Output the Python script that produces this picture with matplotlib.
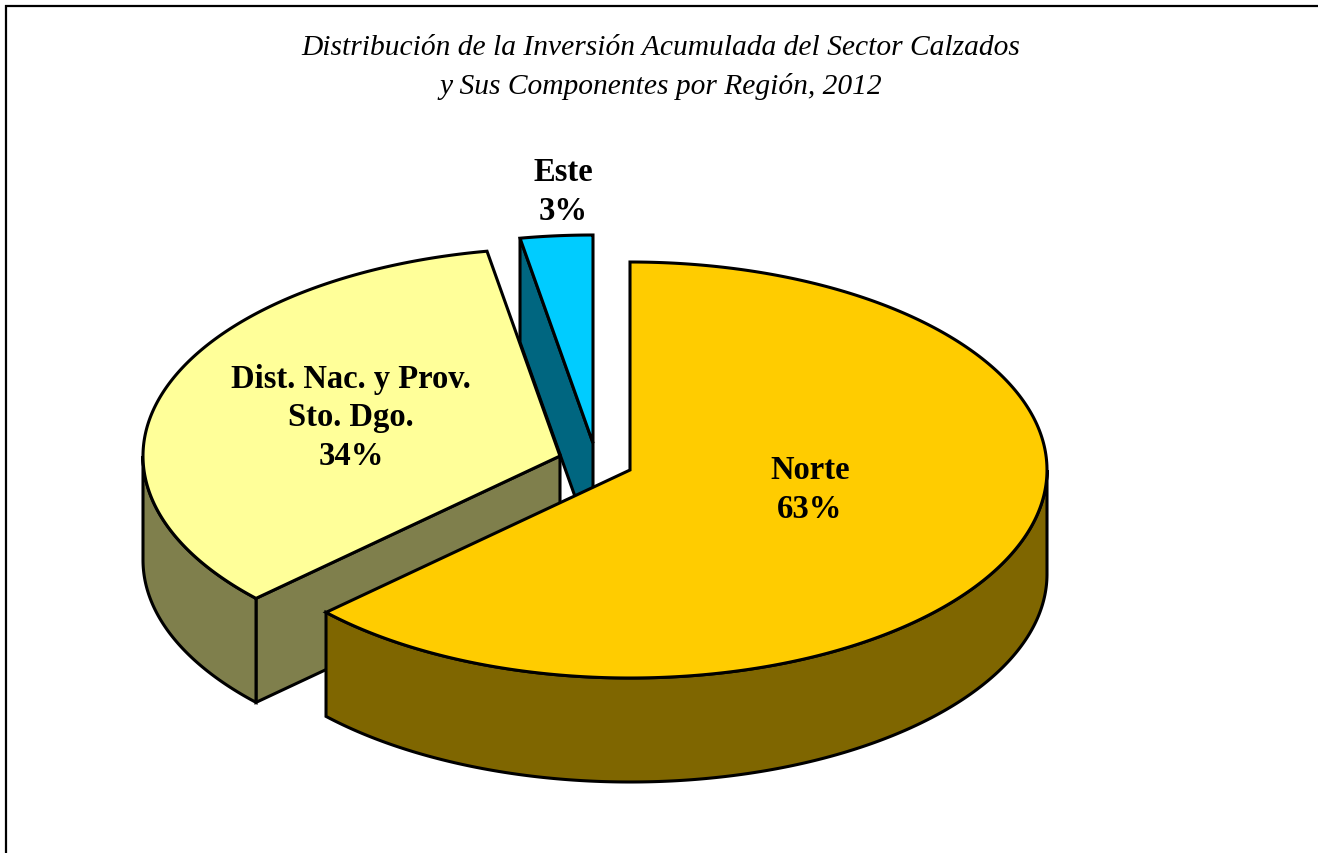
import numpy as np
import matplotlib
matplotlib.use("Agg")
from matplotlib import pyplot as plt
from matplotlib.patches import Polygon

plt.rcParams["font.family"] = ["Liberation Serif", "DejaVu Serif"]

title = "Distribución de la Inversión Acumulada del Sector Calzados\ny Sus Componentes por Región, 2012"
regions = ["Norte", "Dist. Nac. y Prov.\nSto. Dgo.", "Este"]
shares = [63.0, 34.2, 2.8]

top_colors = ["#FFCC00", "#FFFF99", "#00CCFF"]
side_colors = ["#7F6600", "#7F7F4C", "#006680"]

# the axes use picture pixels, y going down
centers = [(630, 471), (560, 457), (593, 444)]
label_pos = [(810, 490), (351, 418), (563, 192)]
rx = 417
ry = 208
depth = 104


def rim(center, a0, a1):
    # angles in degrees, clockwise from 12 o'clock
    t = np.radians(np.linspace(a0, a1, 300))
    return np.column_stack([center[0] + rx * np.sin(t), center[1] - ry * np.cos(t)])


def draw_top(ax, center, a0, a1, color, z):
    pts = np.vstack([[center], rim(center, a0, a1)])
    ax.add_patch(Polygon(pts, closed=True, fc=color, ec="black", lw=2.2, joinstyle="miter", zorder=z))


def draw_outer(ax, center, a0, a1, color, z):
    edge = rim(center, a0, a1)
    pts = np.vstack([edge, edge[::-1] + [0, depth]])
    ax.add_patch(Polygon(pts, closed=True, fc=color, ec="black", lw=2.2, zorder=z))


def draw_radial(ax, center, angle, color, z):
    p = rim(center, angle, angle)[0]
    pts = [center, p, p + [0, depth], np.array(center) + [0, depth]]
    ax.add_patch(Polygon(pts, closed=True, fc=color, ec="black", lw=2.2, zorder=z))


fig = plt.figure(figsize=(13.18, 8.54), dpi=100)
ax = fig.add_axes([0, 0, 1, 1])
ax.set_xlim(0, 1318)
ax.set_ylim(854, 0)
ax.axis("off")

ends = np.cumsum(shares) * 3.6
starts = np.concatenate([[0], ends[:-1]])

# Este first, it sits at the back
draw_radial(ax, centers[2], starts[2], side_colors[2], 1)
draw_top(ax, centers[2], starts[2], ends[2], top_colors[2], 2)

# then the left slice
draw_radial(ax, centers[1], starts[1], side_colors[1], 3)
draw_outer(ax, centers[1], starts[1], 270, side_colors[1], 4)
draw_top(ax, centers[1], starts[1], ends[1], top_colors[1], 5)

# Norte in front
draw_outer(ax, centers[0], 90, ends[0], side_colors[0], 6)
draw_top(ax, centers[0], starts[0], ends[0], top_colors[0], 7)

for name, val, pos in zip(regions, shares, label_pos):
    ax.text(pos[0], pos[1], f"{name}\n{val:.0f}%", ha="center", va="center",
            fontsize=23.5, fontweight="bold", linespacing=1.32, zorder=10)

ax.text(661, 67.5, title, ha="center", va="center", fontsize=21.25, style="italic", linespacing=1.54)

# chart frame, only top and left fall inside the picture
ax.plot([5, 1318], [6.5, 6.5], color="black", lw=1.6, solid_capstyle="butt")
ax.plot([6, 6], [6, 854], color="black", lw=1.6, solid_capstyle="butt")

fig.savefig("out.png", dpi=100)
